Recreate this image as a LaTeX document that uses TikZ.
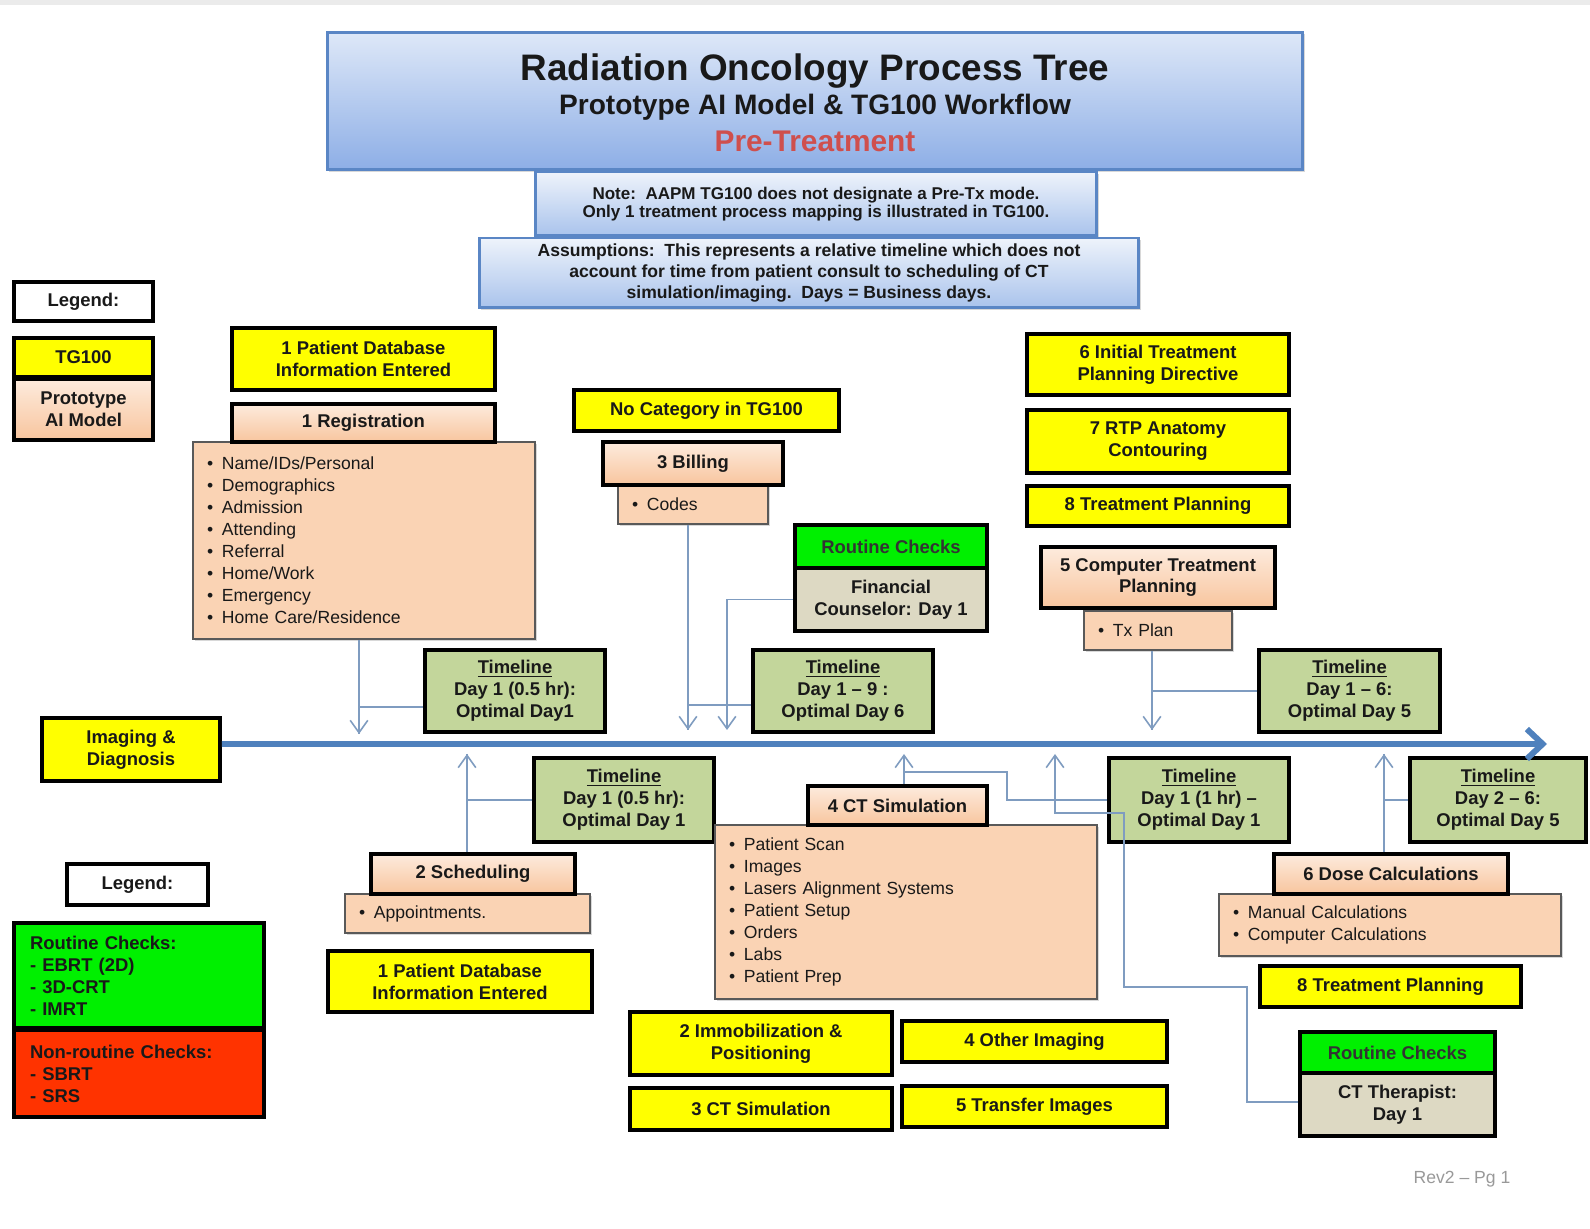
\documentclass[tikz,border=0pt]{standalone}
\usepackage{fontspec}
\setmainfont{Liberation Sans}
\usetikzlibrary{arrows.meta,shadows}
\definecolor{tgyellow}{HTML}{FFFF00}
\definecolor{peach}{HTML}{FAD3B4}
\definecolor{peachtop}{HTML}{FDEBDD}
\definecolor{peachbot}{HTML}{F8C59E}
\definecolor{tlgreen}{HTML}{C3D69B}
\definecolor{rcgreen}{HTML}{00F000}
\definecolor{staffgray}{HTML}{DDD9C3}
\definecolor{nrred}{HTML}{FF3300}
\definecolor{titletop}{HTML}{DEE8F8}
\definecolor{titlebot}{HTML}{8DAEE6}
\definecolor{notetop}{HTML}{EEF3FB}
\definecolor{notebot}{HTML}{A9C3EC}
\definecolor{titleedge}{HTML}{5A86C5}
\definecolor{axisblue}{HTML}{4F81BD}
\definecolor{linkblue}{HTML}{7F9CC0}
\definecolor{pretx}{HTML}{CF4F4D}
\newcommand{\lstitem}{\textbullet\hspace{5pt}}
\begin{document}
\begin{tikzpicture}[
  x=0.02cm,
  y=-0.02cm,
  boxshadow/.style={drop shadow={shadow xshift=1.3pt,shadow yshift=-1.3pt,opacity=0.3}},
  procbox/.style={draw=black,line width=2.2pt,inner sep=0pt,align=center,text=black!90,
    font=\bfseries\fontsize{10.5}{12.5}\selectfont,boxshadow},
  tgbox/.style={procbox,fill=tgyellow},
  aibox/.style={procbox,top color=peachtop,bottom color=peachbot},
  tlbox/.style={procbox,fill=tlgreen},
  rcbox/.style={procbox,fill=rcgreen,text=black!80},
  staffbox/.style={procbox,fill=staffgray},
  listbox/.style={draw=black!65,line width=0.8pt,fill=peach,align=left,inner xsep=0.28cm,
    inner ysep=0pt,text=black!90,font=\fontsize{10}{12.5}\selectfont,boxshadow},
  legbox/.style={procbox,align=left,inner xsep=0.32cm},
  bluebox/.style={draw=titleedge,line width=1.7pt,top color=notetop,bottom color=notebot,
    inner sep=0pt,align=center,text=black!90,boxshadow},
  link/.style={draw=linkblue,line width=0.9pt},
  linkarrow/.style={link,-{Straight Barb[length=7pt,width=10pt]}},
  timeaxis/.style={draw=axisblue,line width=3.4pt,-{Straight Barb[length=9pt,width=17pt]}}
]
  \useasboundingbox (0,0) rectangle (1590,1229);
  \fill[white] (0,0) rectangle (1590,1229);
  \fill[black!8] (0,0) rectangle (1590,5);

  \node[bluebox,top color=titletop,bottom color=titlebot,minimum width=19.52cm,minimum height=2.76cm] (title) at (815,101) {};
  \node[anchor=base,font=\bfseries\fontsize{21}{24}\selectfont,text=black!90] (titleA) at (815,81) {Radiation Oncology Process Tree};
  \node[anchor=base,font=\bfseries\fontsize{16}{19}\selectfont,text=black!90] (titleB) at (815,115) {Prototype AI Model \& TG100 Workflow};
  \node[anchor=base,font=\bfseries\fontsize{17}{20}\selectfont,text=pretx] (titleC) at (815,152) {Pre-Treatment};
  \node[bluebox,minimum width=11.24cm,minimum height=1.28cm,font=\bfseries\fontsize{9.7}{10.4}\selectfont] (note) at (816,204)
    {Note:\ \ AAPM TG100 does not designate a Pre-Tx mode.\\Only 1 treatment process mapping is illustrated in TG100.};
  \node[bluebox,minimum width=13.2cm,minimum height=1.4cm,font=\bfseries\fontsize{10}{12}\selectfont] (assume) at (809,273)
    {Assumptions:\ \ This represents a relative timeline which does not\\account for time from patient consult to scheduling of CT\\simulation/imaging.\ \ Days = Business days.};

  \node[procbox,fill=white,minimum width=2.78cm,minimum height=0.78cm] (leg1) at (83.5,301.5) {Legend:};
  \node[tgbox,minimum width=2.78cm,minimum height=0.78cm] (legtg) at (83.5,357.5) {TG100};
  \node[aibox,minimum width=2.78cm,minimum height=1.22cm] (legai) at (83.5,409.5) {Prototype\\AI Model};

  \node[tgbox,minimum width=5.26cm,minimum height=1.24cm] (pdb1) at (363.5,359) {1 Patient Database\\Information Entered};
  \node[listbox,text width=6.28cm,minimum height=3.94cm] (reglist) at (364,540.5)
    {\lstitem Name/IDs/Personal\\\lstitem Demographics\\\lstitem Admission\\\lstitem Attending\\\lstitem Referral\\\lstitem Home/Work\\\lstitem Emergency\\\lstitem Home Care/Residence};
  \node[aibox,minimum width=5.26cm,minimum height=0.76cm] (reg) at (363.5,423) {1 Registration};

  \node[tgbox,minimum width=5.3cm,minimum height=0.82cm] (nocat) at (706.5,410.5) {No Category in TG100};
  \node[listbox,text width=2.44cm,minimum height=0.78cm] (codes) at (693,504.5) {\lstitem Codes};
  \node[aibox,minimum width=3.6cm,minimum height=0.86cm] (bill) at (693,463.5) {3 Billing};

  \node[rcbox,minimum width=3.84cm,minimum height=0.86cm] (rc1) at (891,546.5) {Routine Checks};
  \node[staffbox,minimum width=3.84cm,minimum height=1.26cm] (fin) at (891,599.5) {Financial\\Counselor: Day 1};

  \node[tgbox,minimum width=5.24cm,minimum height=1.22cm] (itpd) at (1158,364.5) {6 Initial Treatment\\Planning Directive};
  \node[tgbox,minimum width=5.24cm,minimum height=1.26cm] (rtp) at (1158,441.5) {7 RTP Anatomy\\Contouring};
  \node[tgbox,minimum width=5.24cm,minimum height=0.8cm] (tp1) at (1158,506) {8 Treatment Planning};
  \node[listbox,text width=2.4cm,minimum height=0.78cm] (txp) at (1158,630.5) {\lstitem Tx Plan};
  \node[aibox,minimum width=4.68cm,minimum height=1.22cm] (ctp) at (1158,577.5) {5 Computer Treatment\\Planning};

  \node[tlbox,minimum width=3.6cm,minimum height=1.64cm] (tl1) at (515,691) {\underline{Timeline}\\Day 1 (0.5 hr):\\Optimal Day1};
  \node[tlbox,minimum width=3.6cm,minimum height=1.64cm] (tl2) at (843,691) {\underline{Timeline}\\Day 1 -- 9 :\\Optimal Day 6};
  \node[tlbox,minimum width=3.62cm,minimum height=1.64cm] (tl3) at (1349.5,691) {\underline{Timeline}\\Day 1 -- 6:\\Optimal Day 5};

  \node[tgbox,minimum width=3.56cm,minimum height=1.26cm] (imgdx) at (131,749.5) {Imaging \&\\Diagnosis};

  \node[tlbox,minimum width=3.6cm,minimum height=1.68cm] (tl4) at (624,800) {\underline{Timeline}\\Day 1 (0.5 hr):\\Optimal Day 1};
  \node[listbox,text width=4.34cm,minimum height=0.78cm] (appt) at (467.5,913.5) {\lstitem Appointments.};
  \node[aibox,minimum width=4.08cm,minimum height=0.8cm] (sched) at (473,874) {2 Scheduling};
  \node[tgbox,minimum width=5.28cm,minimum height=1.22cm] (pdb2) at (460,981.5) {1 Patient Database\\Information Entered};

  \node[listbox,text width=7.08cm,minimum height=3.48cm] (ctlist) at (906,912)
    {\lstitem Patient Scan\\\lstitem Images\\\lstitem Lasers Alignment Systems\\\lstitem Patient Setup\\\lstitem Orders\\\lstitem Labs\\\lstitem Patient Prep};
  \node[aibox,minimum width=3.58cm,minimum height=0.78cm] (ctsim) at (897.5,805.5) {4 CT Simulation};
  \node[tgbox,minimum width=5.24cm,minimum height=1.26cm] (immob) at (761,1043.5) {2 Immobilization \&\\Positioning};
  \node[tgbox,minimum width=5.24cm,minimum height=0.84cm] (ctsim2) at (761,1109) {3 CT Simulation};
  \node[tgbox,minimum width=5.3cm,minimum height=0.82cm] (other) at (1034.5,1041.5) {4 Other Imaging};
  \node[tgbox,minimum width=5.3cm,minimum height=0.82cm] (transf) at (1034.5,1106.5) {5 Transfer Images};

  \node[tlbox,minimum width=3.6cm,minimum height=1.68cm] (tl5) at (1199,800) {\underline{Timeline}\\Day 1 (1 hr) --\\Optimal Day 1};
  \node[tlbox,minimum width=3.52cm,minimum height=1.68cm] (tl6) at (1498,800) {\underline{Timeline}\\Day 2 -- 6:\\Optimal Day 5};
  \node[listbox,text width=6.28cm,minimum height=1.24cm] (doselist) at (1390,925) {\lstitem Manual Calculations\\\lstitem Computer Calculations};
  \node[aibox,minimum width=4.68cm,minimum height=0.8cm] (dose) at (1391,874) {6 Dose Calculations};
  \node[tgbox,minimum width=5.22cm,minimum height=0.82cm] (tp2) at (1390.5,986.5) {8 Treatment Planning};
  \node[rcbox,minimum width=3.9cm,minimum height=0.82cm] (rc2) at (1397.5,1052.5) {Routine Checks};
  \node[staffbox,minimum width=3.9cm,minimum height=1.26cm] (ctt) at (1397.5,1104.5) {CT Therapist:\\Day 1};

  \node[procbox,fill=white,minimum width=2.82cm,minimum height=0.82cm] (leg2) at (137.5,884.5) {Legend:};
  \node[legbox,fill=rcgreen,text width=4.36cm,minimum height=2.1cm] (legrc) at (139,975.5) {Routine Checks:\\- EBRT (2D)\\- 3D-CRT\\- IMRT};
  \node[legbox,fill=nrred,text width=4.36cm,minimum height=1.74cm] (legnr) at (139,1073.5) {Non-routine Checks:\\- SBRT\\- SRS};

  \node[text=black!40,font=\fontsize{10}{12}\selectfont] (rev) at (1462,1179) {Rev2 -- Pg 1};

  \coordinate (regtip) at (359,734);
  \coordinate (codetip) at (688,730);
  \coordinate (fintip) at (727,730);
  \coordinate (txtip) at (1152,730);
  \coordinate (schedtip) at (467,754);
  \coordinate (cttip) at (904,754);
  \coordinate (ctttip) at (1055,754);
  \coordinate (dosetip) at (1384,754);
  \coordinate (ctbend) at (1007,772);
  \coordinate (cttA) at (1247,987);
  \coordinate (cttB) at (1124,813);
  \coordinate (axisend) at (1547,744);

  \draw[timeaxis] ([yshift=0.11cm]imgdx.east) -- (axisend);

  \draw[linkarrow] (reglist.south -| regtip) -- (regtip);
  \draw[link] ([yshift=-0.32cm]tl1.west) -| (regtip);
  \draw[linkarrow] (codes.south -| codetip) -- (codetip);
  \draw[link] ([yshift=-0.28cm]tl2.west) -| (codetip);
  \draw[linkarrow] (fin.west) -| (fintip);
  \draw[linkarrow] (txp.south -| txtip) -- (txtip);
  \draw[link] (tl3.west) -| (txtip);

  \draw[linkarrow] (sched.north -| schedtip) -- (schedtip);
  \draw[link] (tl4.west) -| (schedtip);
  \draw[linkarrow] (ctsim.north -| cttip) -- (cttip);
  \draw[link] (tl5.west) -| (ctbend) -- (ctbend -| cttip);
  \draw[linkarrow] ([yshift=0.05cm]ctt.west) -| (cttA) -| (cttB) -| (ctttip);
  \draw[linkarrow] (dose.north -| dosetip) -- (dosetip);
  \draw[link] (tl6.west) -| (dosetip);
\end{tikzpicture}
\end{document}
